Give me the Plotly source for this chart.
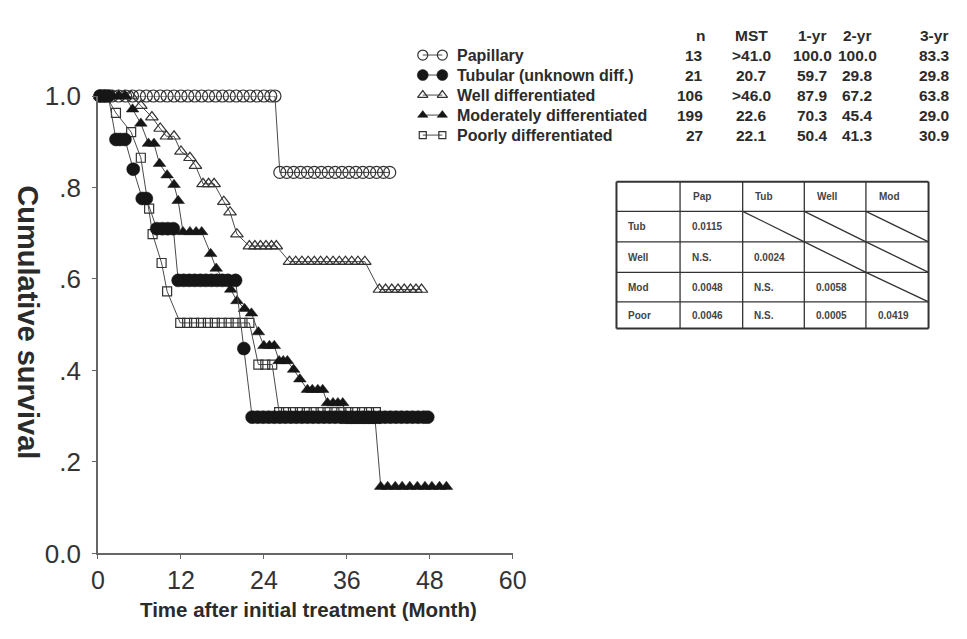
import plotly.graph_objects as go

W, H = 967, 639
FONT = "Liberation Sans, Arial, Helvetica, sans-serif"
INK = "#2b2b2b"
LINE = "#4a4a4a"

# ---- survival curves: marker times (months) and cumulative survival ----
pap_t = [0.3, 1.0, 2.0, 3.0, 4.0, 5.0, 6.0, 7.0, 8.0, 9.0, 10.0, 11.0, 12.0, 13.0,
         14.0, 15.0, 16.0, 17.0, 18.0, 19.0, 20.0, 21.0, 22.0, 23.0, 24.0, 25.0, 25.6,
         26.3, 27.3, 28.3, 29.3, 30.3, 31.3, 32.3, 33.3, 34.3, 35.3, 36.3, 37.3, 38.3,
         39.3, 40.3, 41.3, 42.2]
pap_s = [1.0, 1.0, 1.0, 1.0, 1.0, 1.0, 1.0, 1.0, 1.0, 1.0, 1.0, 1.0, 1.0, 1.0,
         1.0, 1.0, 1.0, 1.0, 1.0, 1.0, 1.0, 1.0, 1.0, 1.0, 1.0, 1.0, 1.0,
         0.833, 0.833, 0.833, 0.833, 0.833, 0.833, 0.833, 0.833, 0.833, 0.833, 0.833,
         0.833, 0.833, 0.833, 0.833, 0.833, 0.833]

tub_t = [0.3, 0.9, 1.5, 2.6, 3.2, 3.9, 5.1, 6.4, 7.0, 8.5, 9.3, 10.1, 10.9,
         11.6, 12.4, 13.2, 14.0, 14.8, 15.6, 16.4, 17.2, 18.0, 18.8, 19.9,
         21.1,
         22.3, 23.1, 23.9, 24.7, 25.5, 26.3, 27.1, 27.9, 28.7, 29.5, 30.3, 31.1, 31.9,
         32.7, 33.5, 34.3, 35.1, 35.9, 36.7, 37.5, 38.3, 39.1, 39.9, 40.7, 41.5, 42.3,
         43.1, 43.9, 44.7, 45.5, 46.3, 47.1, 47.7]
tub_s = [1.0, 1.0, 1.0, 0.905, 0.905, 0.905, 0.840, 0.776, 0.776, 0.710, 0.710, 0.710, 0.710,
         0.597, 0.597, 0.597, 0.597, 0.597, 0.597, 0.597, 0.597, 0.597, 0.597, 0.597,
         0.448,
         0.298, 0.298, 0.298, 0.298, 0.298, 0.298, 0.298, 0.298, 0.298, 0.298, 0.298,
         0.298, 0.298, 0.298, 0.298, 0.298, 0.298, 0.298, 0.298, 0.298, 0.298, 0.298,
         0.298, 0.298, 0.298, 0.298, 0.298, 0.298, 0.298, 0.298, 0.298, 0.298, 0.298]

well_t = [0.3, 1.2, 2.1, 3.0, 3.9, 4.8, 6.2, 7.8, 9.0, 9.9, 11.0, 12.0, 13.3, 14.1,
          15.2, 16.0, 16.8, 18.2, 19.1, 20.1,
          21.9, 22.7, 23.5, 24.3, 25.1, 25.8,
          27.7, 28.6, 29.5, 30.4, 31.3, 32.2, 33.1, 34.0, 34.9, 35.8, 36.7, 37.6, 38.6,
          40.7, 41.6, 42.5, 43.4, 44.3, 45.2, 46.0, 46.8]
well_s = [1.0, 1.0, 1.0, 1.0, 1.0, 1.0, 0.979, 0.954, 0.929, 0.912, 0.912, 0.879, 0.865, 0.848,
          0.808, 0.808, 0.808, 0.769, 0.746, 0.698,
          0.672, 0.672, 0.672, 0.672, 0.672, 0.672,
          0.638, 0.638, 0.638, 0.638, 0.638, 0.638, 0.638, 0.638, 0.638, 0.638, 0.638,
          0.638, 0.638,
          0.577, 0.577, 0.577, 0.577, 0.577, 0.577, 0.577, 0.577]

mod_t = [0.3, 1.2, 2.1, 3.0, 3.9, 5.0, 6.2, 7.3, 8.1, 8.9, 10.0, 11.0, 11.6,
         12.3, 13.3, 14.2, 15.0,
         16.3, 17.1, 19.2, 20.1, 21.2, 22.2, 23.2,
         24.0, 24.8, 25.5, 26.2, 26.8, 27.4, 28.3, 29.2,
         30.3, 31.0, 31.8, 32.5, 33.2, 34.0, 34.7, 35.4,
         36.0, 36.9, 37.7, 38.5, 39.3, 40.1,
         40.9, 41.9, 43.0, 44.0, 45.1, 46.2, 47.3, 48.3, 49.4, 50.4]
mod_s = [1.0, 1.0, 1.0, 1.0, 1.0, 0.971, 0.940, 0.896, 0.896, 0.852, 0.827, 0.806, 0.771,
         0.703, 0.703, 0.703, 0.703,
         0.655, 0.623, 0.577, 0.552, 0.535, 0.525, 0.484,
         0.454, 0.454, 0.454, 0.421, 0.421, 0.421, 0.402, 0.381,
         0.358, 0.358, 0.358, 0.358, 0.329, 0.329, 0.329, 0.329,
         0.290, 0.290, 0.290, 0.290, 0.290, 0.290,
         0.146, 0.146, 0.146, 0.146, 0.146, 0.146, 0.146, 0.146, 0.146, 0.146]

poor_t = [0.3, 1.2, 2.6, 4.8, 6.2, 7.4, 7.9, 9.2, 10.0,
          11.9, 12.9, 13.9, 14.9, 15.9, 16.9, 17.9, 18.9, 19.9, 20.9, 21.9,
          23.2, 24.2, 25.2,
          26.2, 27.2, 28.2, 29.2, 30.2, 31.2, 32.2, 33.2, 34.2, 35.2, 36.2, 37.2,
          38.2, 39.2, 40.2]
poor_s = [1.0, 1.0, 0.963, 0.921, 0.865, 0.754, 0.698, 0.635, 0.573,
          0.504, 0.504, 0.504, 0.504, 0.504, 0.504, 0.504, 0.504, 0.504, 0.504, 0.504,
          0.413, 0.413, 0.413,
          0.309, 0.309, 0.309, 0.309, 0.309, 0.309, 0.309, 0.309, 0.309, 0.309,
          0.309, 0.309, 0.309, 0.309, 0.309]

# ---- summary table beside the legend ----
group_names = ["Papillary", "Tubular (unknown diff.)", "Well differentiated",
               "Moderately differentiated", "Poorly differentiated"]
summary_headers = ["n", "MST", "1-yr", "2-yr", "3-yr"]
n_cases = ["13", "21", "106", "199", "27"]
mst = [">41.0", "20.7", ">46.0", "22.6", "22.1"]
surv_1yr = ["100.0", "59.7", "87.9", "70.3", "50.4"]
surv_2yr = ["100.0", "29.8", "67.2", "45.4", "41.3"]
surv_3yr = ["83.3", "29.8", "63.8", "29.0", "30.9"]

# ---- pairwise log-rank p values ----
p_cols = ["Pap", "Tub", "Well", "Mod"]
p_rows = ["Tub", "Well", "Mod", "Poor"]
p_vals = [["0.0115", None, None, None],
          ["N.S.", "0.0024", None, None],
          ["0.0048", "N.S.", "0.0058", None],
          ["0.0046", "N.S.", "0.0005", "0.0419"]]

x_ticks = [0, 12, 24, 36, 48, 60]
y_ticks = [0.0, 0.2, 0.4, 0.6, 0.8, 1.0]
y_ticktext = ["0.0", ".2", ".4", ".6", ".8", "1.0"]

styles = [
    dict(symbol="circle-open", size=12, color="#333333", lw=1.2),
    dict(symbol="circle", size=13, color="#161616", lw=0.5),
    dict(symbol="triangle-up-open", size=11, color="#333333", lw=1.2),
    dict(symbol="triangle-up", size=11, color="#161616", lw=0.5),
    dict(symbol="square-open", size=9, color="#333333", lw=1.2),
]
series = [(pap_t, pap_s), (tub_t, tub_s), (well_t, well_s), (mod_t, mod_s), (poor_t, poor_s)]
draw_order = [0, 2, 4, 3, 1]

fig = go.Figure()

for i in draw_order:
    t, s = series[i]
    st = styles[i]
    fig.add_trace(go.Scatter(
        x=t, y=s, mode="lines+markers", name=group_names[i], cliponaxis=False,
        line=dict(color=LINE, width=1),
        marker=dict(symbol=st["symbol"], size=st["size"], color=st["color"],
                    line=dict(color=st["color"], width=st["lw"])),
        hoverinfo="skip"))

# ---- legend rows with the summary columns (pixel overlay axes) ----
row_y = [42, 63, 84, 105, 126]
header_y = 21
for i, name in enumerate(group_names):
    st = styles[i]
    fig.add_trace(go.Scatter(
        x=[425, 445], y=[row_y[i], row_y[i]], xaxis="x2", yaxis="y2",
        mode="lines+markers", cliponaxis=False, hoverinfo="skip",
        line=dict(color=LINE, width=1),
        marker=dict(symbol=st["symbol"], size=st["size"] - 2, color=st["color"],
                    line=dict(color=st["color"], width=st["lw"]))))

annotations = []


def txt(x, y, text, size=16, anchor="left", bold=True, color=INK, angle=0):
    annotations.append(dict(
        x=x, y=y, xref="x2", yref="y2", text=f"<b>{text}</b>" if bold else text,
        showarrow=False, xanchor=anchor, yanchor="middle", textangle=angle,
        font=dict(family=FONT, size=size, color=color)))


for i, name in enumerate(group_names):
    txt(458, row_y[i], name)

col_x = [713, 761, 823, 869, 948]
col_anchor = ["right", "center", "center", "center", "center"]
for j, h in enumerate(summary_headers):
    txt(col_x[j] - (4 if j == 0 else 0), header_y, h, size=15.5, anchor="center")
for j, col in enumerate([n_cases, mst, surv_1yr, surv_2yr, surv_3yr]):
    for i, v in enumerate(col):
        txt(col_x[j], row_y[i], v, size=15.5, anchor=col_anchor[j])

# ---- p-value grid ----
gx = [623, 688, 752, 815, 878, 942]
gy = [175, 206, 238, 270, 301, 329]
shapes = []
for k, x in enumerate(gx):
    outer = k in (0, len(gx) - 1)
    shapes.append(dict(type="line", xref="x2", yref="y2", x0=x, x1=x, y0=gy[0], y1=gy[-1],
                       line=dict(color="#333333", width=2 if outer else 1.3)))
for k, y in enumerate(gy):
    outer = k in (0, len(gy) - 1)
    shapes.append(dict(type="line", xref="x2", yref="y2", x0=gx[0], x1=gx[-1], y0=y, y1=y,
                       line=dict(color="#333333", width=2 if outer else 1.3)))

for j, c in enumerate(p_cols):
    txt(gx[j + 1] + 11, (gy[0] + gy[1]) / 2, c, size=10, color="#444444")
for i, r in enumerate(p_rows):
    txt(gx[0] + 10, (gy[i + 1] + gy[i + 2]) / 2, r, size=10, color="#444444")
    for j, v in enumerate(p_vals[i]):
        if v is None:
            shapes.append(dict(type="line", xref="x2", yref="y2",
                               x0=gx[j + 1], x1=gx[j + 2], y0=gy[i + 1], y1=gy[i + 2],
                               line=dict(color="#333333", width=1.3)))
        else:
            txt(gx[j + 1] + 10, (gy[i + 1] + gy[i + 2]) / 2, v, size=10, color="#444444")

# ---- axis titles ----
txt(308, 624, "Time after initial treatment (Month)", size=20.5, anchor="center")
txt(22, 322, "Cumulative survival", size=29, anchor="center", angle=90)

x_font = dict(family=FONT, size=25, color="#333333")
y_font = dict(family=FONT, size=26, color="#333333")
fig.update_layout(
    width=W, height=H, margin=dict(l=0, r=0, t=0, b=0),
    paper_bgcolor="white", plot_bgcolor="rgba(0,0,0,0)", showlegend=False,
    xaxis=dict(domain=[93 / W, 517 / W], range=[0, 60], tickvals=x_ticks,
               showline=True, linecolor="#666666", linewidth=1.5, ticks="outside",
               ticklen=4, tickcolor="#666666", tickfont=x_font, showgrid=False,
               zeroline=False, anchor="y", ticklabelstandoff=0),
    yaxis=dict(domain=[74 / H, 554 / H], range=[0, 1], tickvals=y_ticks,
               ticktext=y_ticktext, showline=True, linecolor="#666666", linewidth=1.5,
               ticks="outside", ticklen=4, tickcolor="#666666", tickfont=y_font,
               showgrid=False, zeroline=False, anchor="x", ticklabelstandoff=6),
    xaxis2=dict(domain=[0, 1], range=[0, W], visible=False, anchor="y2", fixedrange=True),
    yaxis2=dict(domain=[0, 1], range=[H, 0], visible=False, anchor="x2", fixedrange=True),
    annotations=annotations, shapes=shapes,
)

fig.write_html("out.html")
